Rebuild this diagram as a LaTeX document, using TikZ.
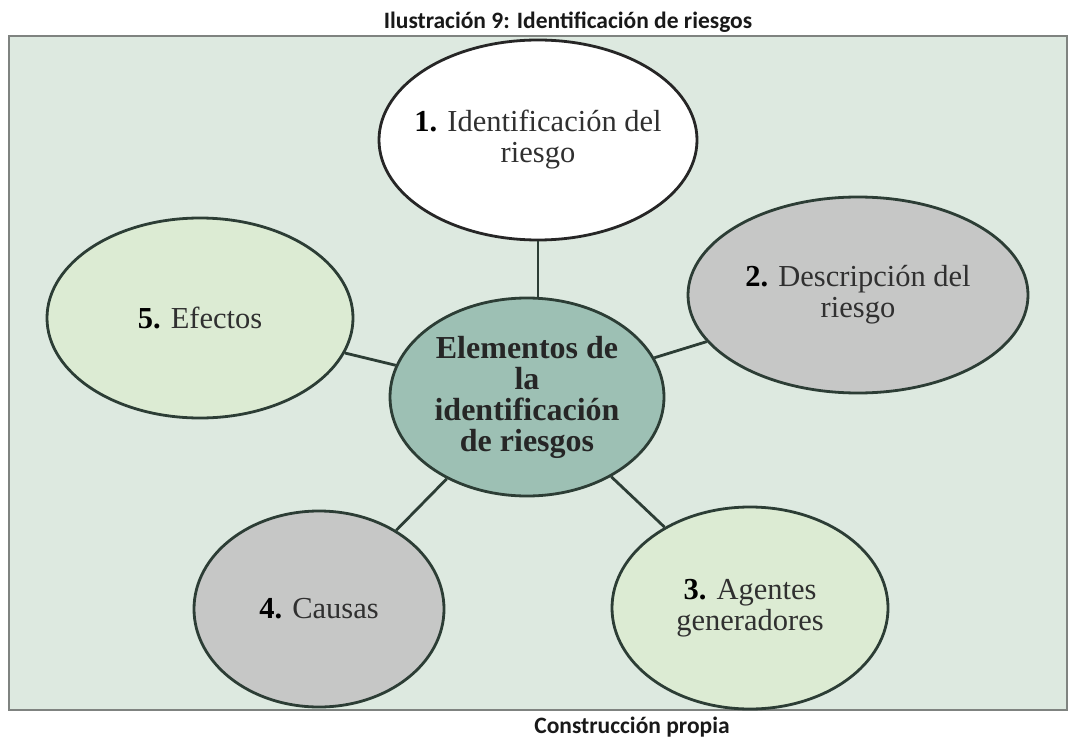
\documentclass[tikz,border=0pt]{standalone}
\usepackage{fontspec}
\setmainfont{Liberation Serif}
\newfontfamily\capfont{Carlito}
\usetikzlibrary{shapes.geometric}
\definecolor{bgframe}{HTML}{DDE9E0}
\definecolor{framegray}{HTML}{7F8380}
\definecolor{edgedark}{HTML}{2C3D35}
\definecolor{centerfill}{HTML}{9DC0B4}
\definecolor{lightgreen}{HTML}{DCEBD3}
\definecolor{midgray}{HTML}{C6C7C6}
\definecolor{textdark}{HTML}{303030}
\tikzset{
  blob/.style={ellipse, draw=edgedark, line width=2.8pt, inner sep=0pt, align=center,
    text=textdark, font=\fontsize{30.5}{31}\selectfont},
  link/.style={draw=edgedark, line width=2.8pt},
  caption/.style={font=\capfont\bfseries\fontsize{23.5}{26}\selectfont, text=black!90, anchor=base}
}
\begin{document}
\begin{tikzpicture}[x=1pt,y=-1pt]
\useasboundingbox (0,0) rectangle (1070,738);
\fill[white] (0,0) rectangle (1070,738);
\node[caption] (title) at (568,29) {Ilustración 9: Identificación de riesgos};
\draw[framegray, line width=2pt, fill=bgframe] (9,36) rectangle (1067,710);
\node[caption] (source) at (632,733) {Construcción propia};

\node[blob, fill=centerfill, minimum width=274pt, minimum height=198pt,
  font=\bfseries\fontsize{32}{31}\selectfont, text=black!85] (center) at (527,397)
  {Elementos de\\la\\identificación\\de riesgos};
\node[blob, fill=white, draw=black!85, inner xsep=-25pt, minimum width=318pt, minimum height=200pt] (e1) at (538,140)
  {\textbf{\textcolor{black}{1.}} Identificación del\\riesgo};
\node[blob, fill=midgray, minimum width=340pt, minimum height=196pt] (e2) at (858,295)
  {\textbf{\textcolor{black}{2.}} Descripción del\\riesgo};
\node[blob, fill=lightgreen, minimum width=276pt, minimum height=202pt] (e3) at (750,608)
  {\textbf{\textcolor{black}{3.}} Agentes\\generadores};
\node[blob, fill=midgray, minimum width=250pt, minimum height=196pt] (e4) at (319,609)
  {\textbf{\textcolor{black}{4.}} Causas};
\node[blob, fill=lightgreen, minimum width=306pt, minimum height=200pt] (e5) at (200,318)
  {\textbf{\textcolor{black}{5.}} Efectos};

\draw[link] (e1.south) -- (e1.south |- center.north);
\draw[link] (center) -- (e2);
\draw[link] (center) -- (e3);
\draw[link] (center) -- (e4);
\draw[link] (center) -- (e5);
\end{tikzpicture}
\end{document}
